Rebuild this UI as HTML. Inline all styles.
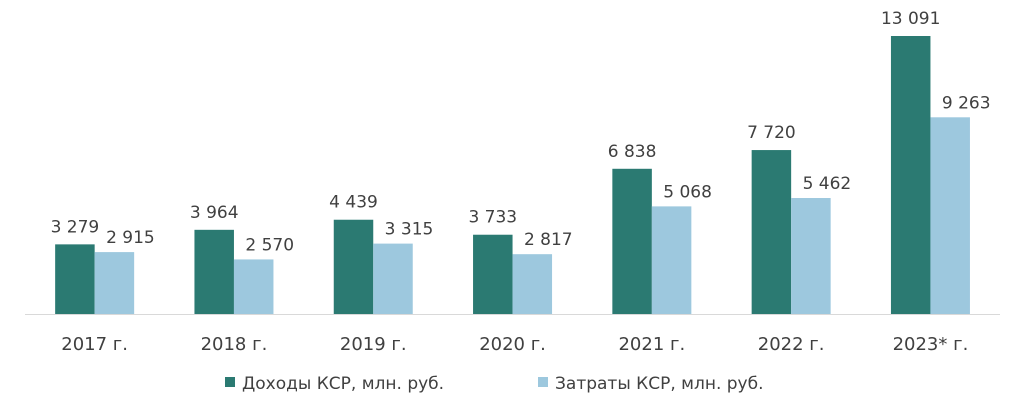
<!DOCTYPE html>
<html><head><meta charset="utf-8"><style>
body{margin:0;background:#fff;}
svg text{font-family:"DejaVu Sans","Liberation Sans",sans-serif;fill:#404040;}
</style></head><body>
<svg id="chart" width="1024" height="410">
<line x1="25" y1="314.5" x2="1000" y2="314.5" stroke="#d9d9d9" stroke-width="1"/>
<g id="bars"></g>
<g>
<rect x="225" y="377" width="10" height="10" fill="#2b7a72"/>
<text x="242" y="389" font-size="17">Доходы КСР, млн. руб.</text>
<rect x="538" y="377" width="10" height="10" fill="#9dc8de"/>
<text x="555" y="389" font-size="17">Затраты КСР, млн. руб.</text>
</g>
</svg>
<script>
const categories=["2017 г.","2018 г.","2019 г.","2020 г.","2021 г.","2022 г.","2023* г."];
const income=[3279,3964,4439,3733,6838,7720,13091];
const costs=[2915,2570,3315,2817,5068,5462,9263];
const ns="http://www.w3.org/2000/svg";
const g=document.getElementById("bars");
const x0=25,step=139.3,base=314,k=278/13091,bw=39.5;
const y=v=>base-v*k;
const fmt=v=>String(v).replace(/\B(?=(\d{3})+(?!\d))/g," ");
function mk(tag,attrs){const e=document.createElementNS(ns,tag);for(const a in attrs)e.setAttribute(a,attrs[a]);g.appendChild(e);return e;}
categories.forEach((c,i)=>{
  const cx=x0+step*(i+0.5);
  [[income,"#2b7a72",cx-bw,"income",0,12],[costs,"#9dc8de",cx,"cost",16,9]].forEach(([arr,col,bx,nm,dx,dy])=>{
    const r=mk("rect",{x:bx,y:y(arr[i]),width:bw,height:arr[i]*k,fill:col});
    
    
    const t=mk("text",{x:bx+bw/2+dx,y:y(arr[i])-dy,"font-size":"17","text-anchor":"middle"});
    t.textContent=fmt(arr[i]);
    
    
  });
  const l=mk("text",{x:cx,y:350,"font-size":"18","text-anchor":"middle"});
  l.textContent=c;
  
  
});
</script>
</body></html>
